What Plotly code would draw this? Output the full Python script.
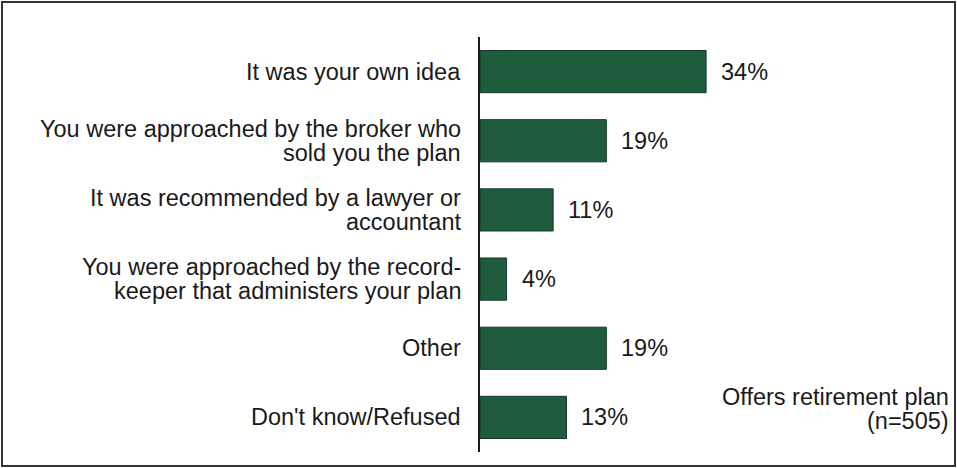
import plotly.graph_objects as go

categories = [
    "It was your own idea",
    "You were approached by the broker who\nsold you the plan",
    "It was recommended by a lawyer or\naccountant",
    "You were approached by the record-\nkeeper that administers your plan",
    "Other",
    "Don't know/Refused",
]
values = [34, 19, 11, 4, 19, 13]
value_labels = [f"{v}%" for v in values]
note_lines = ["Offers retirement plan", "(n=505)"]

FONT = "Liberation Sans, Arial, sans-serif"
FS = 23.5
TEXT_COLOR = "#1a1a1a"
BAR_COLOR = "#1f5b3d"
LINE_GAP = 23.5  # px between stacked text lines

fig = go.Figure()
fig.add_trace(go.Bar(
    x=values,
    y=categories,
    orientation="h",
    width=0.61,
    marker=dict(color=BAR_COLOR, line=dict(color="#163828", width=1)),
    hoverinfo="skip",
))

txt_font = dict(family=FONT, size=FS, color=TEXT_COLOR)

# category labels, right-aligned to the left of the axis, tight line spacing
for cat in categories:
    lines = cat.split("\n")
    n = len(lines)
    for i, line in enumerate(lines):
        fig.add_annotation(
            x=0, y=cat, xref="paper", yref="y",
            text=line, showarrow=False,
            xanchor="right", yanchor="middle",
            xshift=-17, yshift=((n - 1) / 2 - i) * LINE_GAP,
            font=txt_font,
        )

# percentage labels just right of each bar end
for cat, v, lab in zip(categories, values, value_labels):
    fig.add_annotation(
        x=v, y=cat, xref="x", yref="y",
        text=lab, showarrow=False,
        xanchor="left", yanchor="middle", xshift=13,
        font=txt_font,
    )

# sample note in the lower right corner
L, R, T, B = 480, 17, 37, 16
W, H = 957 - L - R, 468 - T - B
for i, line in enumerate(note_lines):
    ypix = 397 + i * LINE_GAP
    fig.add_annotation(
        x=(951 - L) / W, y=(H - (ypix - T)) / H, xref="paper", yref="paper",
        text=line, showarrow=False,
        xanchor="right", yanchor="middle",
        font=txt_font,
    )

# outer frame around the whole chart
fig.add_shape(
    type="rect", xref="paper", yref="paper",
    x0=(2 - L) / W, x1=(955 - L) / W,
    y0=(H - (466 - T)) / H, y1=(H - (2 - T)) / H,
    line=dict(color="#333333", width=2), fillcolor="rgba(0,0,0,0)",
)

fig.update_layout(
    width=957, height=468,
    margin=dict(l=L, r=R, t=T, b=B),
    paper_bgcolor="white", plot_bgcolor="white",
    showlegend=False,
    font=dict(family=FONT, size=FS, color=TEXT_COLOR),
    xaxis=dict(range=[0, W / 6.65], visible=False, fixedrange=True),
    yaxis=dict(
        autorange=False, range=[5.5, -0.5],
        showline=True, linecolor="#1a1a1a", linewidth=1.5,
        showgrid=False, zeroline=False, ticks="",
        showticklabels=False,
    ),
)

fig.write_html("out.html")
